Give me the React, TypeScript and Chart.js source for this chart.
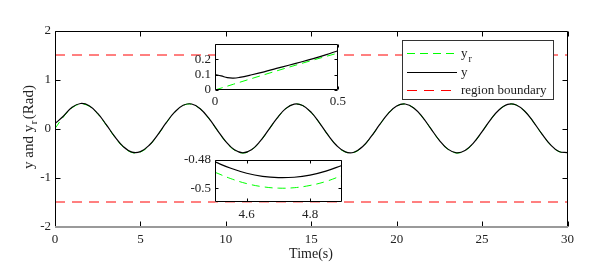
import React, { useEffect, useRef } from "react";
import { Chart, registerables } from "chart.js";
Chart.register(...registerables);

const FONT = '"Liberation Serif", "Times New Roman", serif';

// ---------- data ----------
const tMain = [0, 0.5, 1, 1.5, 2, 2.5, 3, 3.5, 4, 4.5, 5, 5.5, 6, 6.5, 7, 7.5, 8, 8.5, 9, 9.5, 10, 10.5, 11, 11.5, 12, 12.5, 13, 13.5, 14, 14.5, 15, 15.5, 16, 16.5, 17, 17.5, 18, 18.5, 19, 19.5, 20, 20.5, 21, 21.5, 22, 22.5, 23, 23.5, 24, 24.5, 25, 25.5, 26, 26.5, 27, 27.5, 28, 28.5, 29, 29.5, 30];
const yRefMain = [0, 0.24, 0.421, 0.499, 0.455, 0.299, 0.071, -0.175, -0.378, -0.489, -0.479, -0.353, -0.14, 0.108, 0.328, 0.469, 0.495, 0.399, 0.206, -0.038, -0.272, -0.44, -0.5, -0.438, -0.268, -0.033, 0.21, 0.402, 0.495, 0.467, 0.325, 0.103, -0.144, -0.356, -0.481, -0.488, -0.375, -0.171, 0.075, 0.303, 0.456, 0.498, 0.418, 0.236, -0.004, -0.244, -0.423, -0.499, -0.453, -0.296, -0.066, 0.18, 0.381, 0.49, 0.478, 0.35, 0.135, -0.112, -0.332, -0.471, -0.494];
const yOutMain = [0.1, 0.255, 0.434, 0.51, 0.465, 0.308, 0.08, -0.167, -0.37, -0.482, -0.472, -0.347, -0.134, 0.113, 0.333, 0.474, 0.5, 0.404, 0.211, -0.034, -0.268, -0.436, -0.496, -0.434, -0.264, -0.029, 0.213, 0.405, 0.498, 0.47, 0.328, 0.106, -0.141, -0.353, -0.478, -0.485, -0.372, -0.168, 0.077, 0.305, 0.458, 0.5, 0.42, 0.238, -0.002, -0.242, -0.421, -0.497, -0.451, -0.294, -0.064, 0.182, 0.383, 0.492, 0.48, 0.352, 0.137, -0.11, -0.33, -0.469, -0.492];
const regionBoundary = [1.5, -1.5];

const tInset1 = [0, 0.025, 0.05, 0.075, 0.1, 0.15, 0.2, 0.25, 0.3, 0.35, 0.4, 0.45, 0.5];
const yRefInset1 = [0, 0.0125, 0.025, 0.0375, 0.0499, 0.0747, 0.0993, 0.1237, 0.1478, 0.1714, 0.1947, 0.2174, 0.2397];
const yOutInset1 = [0.1, 0.092, 0.08, 0.077, 0.082, 0.099, 0.118, 0.14, 0.161, 0.182, 0.204, 0.228, 0.255];

const tInset2 = [4.5, 4.55, 4.6, 4.65, 4.7, 4.75, 4.8, 4.85, 4.9];
const yRefInset2 = [-0.4888, -0.4933, -0.4968, -0.499, -0.5, -0.4997, -0.4981, -0.4953, -0.4912];
const yOutInset2 = [-0.4815, -0.486, -0.4895, -0.4917, -0.4926, -0.4923, -0.4908, -0.488, -0.484];

// tick labels
const mainXTicks = [0, 5, 10, 15, 20, 25, 30];
const mainYTicks = [-2, -1, 0, 1, 2];
const inset1XTicks = [0, 0.5];
const inset1YTicks = [0, 0.1, 0.2];
const inset2XTicks = [4.6, 4.8];
const inset2YTicks = [-0.5, -0.48];

const legendLabels = ["y", "y", "region boundary"];

// ---------- helpers ----------
const pts = (xs: number[], ys: number[]) => xs.map((x, i) => ({ x, y: ys[i] }));

function boxPlugin(xTicks: number[], yTicks: number[], opts: { white?: boolean; greyBottom?: boolean; tickLen: number }) {
  return {
    id: "boxTicks",
    beforeDraw(chart: any) {
      if (!opts.white) return;
      const a = chart.chartArea;
      const ctx = chart.ctx;
      ctx.save();
      ctx.fillStyle = "#ffffff";
      ctx.fillRect(a.left, a.top, a.right - a.left, a.bottom - a.top);
      ctx.restore();
    },
    afterDatasetsDraw(chart: any) {
      const { ctx, chartArea: a, scales } = chart;
      const L = Math.round(a.left) + 0.5;
      const R = Math.round(a.right) - 0.5;
      const T = Math.round(a.top) + 0.5;
      const B = Math.round(a.bottom) - 0.5;
      const tl = opts.tickLen;
      ctx.save();
      ctx.strokeStyle = "#000000";
      ctx.lineWidth = 1;
      ctx.setLineDash([]);
      ctx.beginPath();
      for (const v of xTicks) {
        const px = Math.round(scales.x.getPixelForValue(v)) + 0.5;
        ctx.moveTo(px, B);
        ctx.lineTo(px, B - tl);
        ctx.moveTo(px, T);
        ctx.lineTo(px, T + tl);
      }
      for (const v of yTicks) {
        const py = Math.round(scales.y.getPixelForValue(v)) + 0.5;
        ctx.moveTo(L, py);
        ctx.lineTo(L + tl, py);
        ctx.moveTo(R, py);
        ctx.lineTo(R - tl, py);
      }
      // border
      ctx.moveTo(L, B);
      ctx.lineTo(L, T);
      ctx.lineTo(R, T);
      ctx.lineTo(R, B);
      if (!opts.greyBottom) ctx.lineTo(L, B);
      ctx.stroke();
      if (opts.greyBottom) {
        ctx.fillStyle = "#9a9a9a";
        ctx.fillRect(L - 0.5, B - 0.5, R - L + 1, 2);
      }
      ctx.restore();
    },
  };
}

function axisOpts(min: number, max: number, ticks: number[], fit: (s: any) => void, padding: number) {
  return {
    type: "linear" as const,
    min,
    max,
    grid: { display: false, drawTicks: false },
    border: { display: false },
    afterBuildTicks: (scale: any) => {
      scale.ticks = ticks.map((v) => ({ value: v }));
    },
    afterFit: fit,
    ticks: {
      autoSkip: false,
      maxRotation: 0,
      padding,
      color: "#222222",
      font: { family: FONT, size: 13 },
      callback: (v: any) => String(v),
    },
  };
}

const mainPlugin = {
  id: "mainText",
  afterDraw(chart: any) {
    const ctx = chart.ctx as CanvasRenderingContext2D;
    ctx.save();
    ctx.fillStyle = "#222222";
    // x title
    ctx.font = `14px ${FONT}`;
    ctx.textAlign = "center";
    ctx.textBaseline = "middle";
    ctx.fillText("Time(s)", 311, 254);
    // y title (rotated, with subscript)
    ctx.textAlign = "left";
    ctx.textBaseline = "alphabetic";
    const p1 = "y and y";
    const p2 = "r";
    const p3 = "(Rad)";
    ctx.font = `15px ${FONT}`;
    const w1 = ctx.measureText(p1).width;
    const w3 = ctx.measureText(p3).width;
    ctx.font = `11px ${FONT}`;
    const w2 = ctx.measureText(p2).width;
    const total = w1 + w2 + 2 + w3;
    ctx.translate(33, 127 + total / 2);
    ctx.rotate(-Math.PI / 2);
    ctx.font = `15px ${FONT}`;
    ctx.fillText(p1, 0, 0);
    ctx.font = `11px ${FONT}`;
    ctx.fillText(p2, w1 + 0.5, 4);
    ctx.font = `15px ${FONT}`;
    ctx.fillText(p3, w1 + w2 + 2, 0);
    ctx.restore();

    // legend
    ctx.save();
    ctx.fillStyle = "#ffffff";
    ctx.fillRect(402, 40, 152, 60);
    ctx.strokeStyle = "#333333";
    ctx.lineWidth = 1;
    ctx.strokeRect(402.5, 40.5, 151, 59);
    const rows = [53.5, 72.5, 90.5];
    const styles = [
      { c: "#00ff00", d: [8, 5], w: 1 },
      { c: "#000000", d: [], w: 1.2 },
      { c: "#ff0000", d: [10, 7], w: 1 },
    ];
    rows.forEach((y, i) => {
      ctx.beginPath();
      ctx.strokeStyle = styles[i].c;
      ctx.lineWidth = styles[i].w;
      ctx.setLineDash(styles[i].d);
      ctx.moveTo(407, y);
      ctx.lineTo(457, y);
      ctx.stroke();
    });
    ctx.setLineDash([]);
    ctx.fillStyle = "#222222";
    ctx.textAlign = "left";
    ctx.textBaseline = "alphabetic";
    ctx.font = `13px ${FONT}`;
    ctx.fillText(legendLabels[0], 461, rows[0] + 3);
    const wy = ctx.measureText(legendLabels[0]).width;
    ctx.font = `10px ${FONT}`;
    ctx.fillText("r", 461 + wy + 1, rows[0] + 8);
    ctx.font = `13px ${FONT}`;
    ctx.fillText(legendLabels[1], 461, rows[1] + 3);
    ctx.fillText(legendLabels[2], 461, rows[2] + 3);
    ctx.restore();
  },
};

function useChart(ref: React.RefObject<HTMLCanvasElement>, make: () => any) {
  useEffect(() => {
    if (!ref.current) return;
    const chart = new Chart(ref.current, make());
    return () => chart.destroy();
  }, []);
}

export default function App() {
  const mainRef = useRef<HTMLCanvasElement>(null);
  const in1Ref = useRef<HTMLCanvasElement>(null);
  const in2Ref = useRef<HTMLCanvasElement>(null);

  useChart(mainRef, () => ({
    type: "line",
    data: {
      datasets: [
        {
          label: "y",
          data: pts(tMain, yOutMain),
          borderColor: "#000000",
          borderWidth: 1.2,
          pointRadius: 0,
          tension: 0.4,
          order: 0,
        },
        {
          label: "y_r",
          data: pts(tMain, yRefMain),
          borderColor: "#00ff00",
          borderWidth: 1,
          borderDash: [8, 5],
          pointRadius: 0,
          tension: 0.4,
          order: 1,
        },
        {
          label: "region boundary",
          data: [
            { x: tMain[0], y: regionBoundary[0] },
            { x: tMain[tMain.length - 1], y: regionBoundary[0] },
          ],
          borderColor: "#ff0000",
          borderWidth: 1,
          borderDash: [10, 7],
          pointRadius: 0,
          order: 2,
        },
        {
          label: "region boundary lower",
          data: [
            { x: tMain[0], y: regionBoundary[1] },
            { x: tMain[tMain.length - 1], y: regionBoundary[1] },
          ],
          borderColor: "#ff0000",
          borderWidth: 1,
          borderDash: [10, 7],
          pointRadius: 0,
          order: 2,
        },
      ],
    },
    options: {
      animation: false,
      responsive: false,
      layout: { padding: { left: 0, right: 28.5, top: 30.5, bottom: 0 } },
      plugins: { legend: { display: false }, tooltip: { enabled: false } },
      scales: {
        x: axisOpts(0, 30, mainXTicks, (s: any) => { s.height = 41.5; }, 5),
        y: axisOpts(-2, 2, mainYTicks, (s: any) => { s.width = 55; }, 4),
      },
    },
    plugins: [boxPlugin(mainXTicks, mainYTicks, { greyBottom: true, tickLen: 5 }), mainPlugin],
  }));

  useChart(in1Ref, () => ({
    type: "line",
    data: {
      datasets: [
        {
          data: pts(tInset1, yOutInset1),
          borderColor: "#000000",
          borderWidth: 1.2,
          pointRadius: 0,
          tension: 0.4,
        },
        {
          data: pts(tInset1, yRefInset1),
          borderColor: "#00ff00",
          borderWidth: 1,
          borderDash: [8, 5],
          pointRadius: 0,
        },
      ],
    },
    options: {
      animation: false,
      responsive: false,
      layout: { padding: { left: 0, right: 12, top: 8, bottom: 0 } },
      plugins: { legend: { display: false }, tooltip: { enabled: false } },
      scales: {
        x: axisOpts(0, 0.5, inset1XTicks, (s: any) => { s.height = 22; }, 4),
        y: axisOpts(0, 0.3, inset1YTicks, (s: any) => { s.width = 35; }, 4),
      },
    },
    plugins: [boxPlugin(inset1XTicks, inset1YTicks, { white: true, tickLen: 3 })],
  }));

  useChart(in2Ref, () => ({
    type: "line",
    data: {
      datasets: [
        {
          data: pts(tInset2, yOutInset2),
          borderColor: "#000000",
          borderWidth: 1.2,
          pointRadius: 0,
          tension: 0.4,
        },
        {
          data: pts(tInset2, yRefInset2),
          borderColor: "#00ff00",
          borderWidth: 1,
          borderDash: [8, 5],
          pointRadius: 0,
          tension: 0.4,
        },
      ],
    },
    options: {
      animation: false,
      responsive: false,
      layout: { padding: { left: 0, right: 8.3, top: 8.7, bottom: 0 } },
      plugins: { legend: { display: false }, tooltip: { enabled: false } },
      scales: {
        x: axisOpts(4.5, 4.9, inset2XTicks, (s: any) => { s.height = 23.7; }, 4),
        y: axisOpts(-0.51, -0.48, inset2YTicks, (s: any) => { s.width = 45; }, 4),
      },
    },
    plugins: [boxPlugin(inset2XTicks, inset2YTicks, { white: true, tickLen: 3 })],
  }));

  return (
    <div style={{ position: "fixed", left: 0, top: 0, width: 596, height: 268, background: "#ffffff" }}>
      <canvas ref={mainRef} width={596} height={268} style={{ position: "absolute", left: 0, top: 0, width: 596, height: 268 }} />
      <canvas ref={in1Ref} width={170} height={80} style={{ position: "absolute", left: 180, top: 32, width: 170, height: 80 }} />
      <canvas ref={in2Ref} width={180} height={78} style={{ position: "absolute", left: 170, top: 148, width: 180, height: 78 }} />
    </div>
  );
}
